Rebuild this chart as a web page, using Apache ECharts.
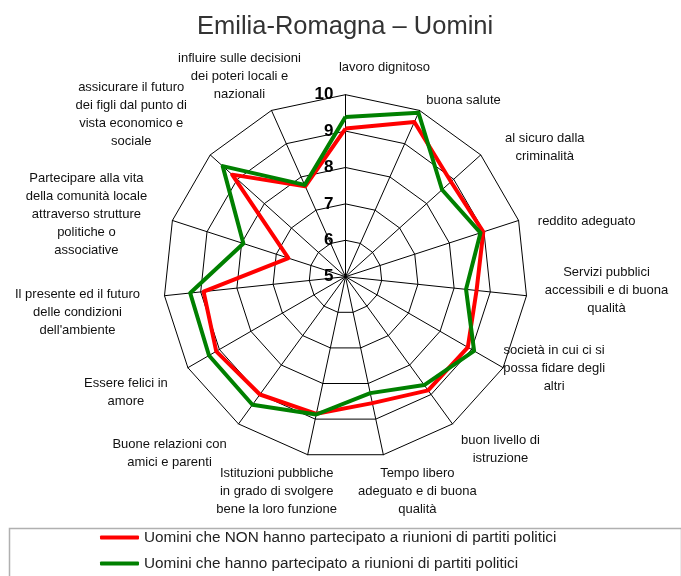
<!DOCTYPE html>
<html>
<head>
<meta charset="utf-8">
<script src="https://cdn.jsdelivr.net/npm/echarts@6/dist/echarts.min.js"></script>
<style>
  html, body { margin: 0; padding: 0; background: #fff; }
  #radar { width: 681px; height: 576px; }
</style>
</head>
<body>
<div id="radar"></div>
<script>
// categories, clockwise from the top
var categories = [
    'lavoro dignitoso',
    'buona salute',
    'al sicuro dalla\ncriminalità',
    'reddito adeguato',
    'Servizi pubblici\naccessibili e di buona\nqualità',
    'società in cui ci si\npossa fidare degli\naltri',
    'buon livello di\nistruzione',
    'Tempo libero\nadeguato e di buona\nqualità',
    'Istituzioni pubbliche\nin grado di svolgere\nbene la loro funzione',
    'Buone relazioni con\namici e parenti',
    'Essere felici in\namore',
    'Il presente ed il futuro\ndelle condizioni\ndell\'ambiente',
    'Partecipare alla vita\ndella comunità locale\nattraverso strutture\npolitiche o\nassociative',
    'assicurare il futuro\ndei figli dal punto di\nvista economico e\nsociale',
    'influire sulle decisioni\ndei poteri locali e\nnazionali'
];
var nonPartecipato = [9.07, 9.65, 8.9, 8.98, 8.62, 8.88, 8.86, 8.55, 8.85, 9.0, 9.1, 8.92, 6.65, 9.19, 7.72];
var partecipato    = [9.39, 9.93, 8.57, 8.9, 8.33, 9.08, 8.68, 8.27, 8.87, 9.35, 9.33, 9.29, 7.95, 9.54, 7.76];
var seriesNames = [
    'Uomini che NON hanno partecipato a riunioni di partiti politici',
    'Uomini che hanno partecipato a riunioni di partiti politici'
];
var scaleMin = 5, scaleMax = 10;

// where each category label sits, as [dx, dy] from the end of its axis (same order as categories)
var labelOffsets = [
    [39, -27], [44, -10], [64, -7], [68, 1], [80, -5],
    [51, 1], [48, 25], [34, 37], [-31, 37], [-69, 29],
    [-62, 25], [-87, 17], [-86, -6], [-79, -40], [-32, -34]
];

!function(){
    var myChart = echarts.init(document.getElementById('radar'));

    // echarts lays the indicators out anticlockwise, so keep the first and reverse the rest
    function clockwise(arr) {
        return [arr[0]].concat(arr.slice(1).reverse());
    }

    // centred text box shifted by padding: moves the text by half of each padding side
    function padFor(off) {
        var dx = off[0], dy = off[1];
        return [dy > 0 ? 2 * dy : 0, dx < 0 ? -2 * dx : 0, dy < 0 ? -2 * dy : 0, dx > 0 ? 2 * dx : 0];
    }

    var offsets = clockwise(labelOffsets);
    var indicator = clockwise(categories).map(function (name, i) {
        var ind = {
            name: name,
            min: scaleMin,
            max: scaleMax,
            nameGap: 0,
            nameTextStyle: { align: 'center', verticalAlign: 'middle', padding: padFor(offsets[i]) }
        };
        if (i === 0) ind.axisLabel = { show: true };
        return ind;
    });

    var option = {
        animation: false,
        backgroundColor: '#ffffff',
        textStyle: { fontFamily: 'Liberation Sans, Arial, sans-serif' },
        title: {
            text: 'Emilia-Romagna – Uomini',
            left: 192,
            top: 9,
            textStyle: { fontSize: 25.5, fontWeight: 'normal', color: '#333' }
        },
        legend: {
            orient: 'vertical',
            left: 100,
            top: 530,
            padding: 0,
            itemWidth: 39,
            itemHeight: 4,
            itemGap: 11,
            icon: 'roundRect',
            textStyle: { fontSize: 15.3, color: '#222' },
            data: seriesNames
        },
        graphic: [{
            type: 'rect',
            left: 7,
            top: 526,
            shape: { width: 672, height: 60 },
            style: { fill: 'none', stroke: '#b0b0b0', lineWidth: 1.5 },
            silent: true
        }],
        radar: {
            shape: 'polygon',
            center: [345.5, 276.7],
            radius: 182,
            splitNumber: 5,
            axisName: {
                color: '#111',
                fontSize: 13,
                formatter: function (name) {
                    return name.split('\n').map(function (l) { return '{c|' + l + '}'; }).join('\n');
                },
                rich: { c: { align: 'center', fontSize: 13, color: '#111', lineHeight: 18 } }
            },
            axisLine: { lineStyle: { color: '#000', width: 1 } },
            splitLine: { lineStyle: { color: '#000', width: 1 } },
            splitArea: { show: false },
            axisTick: { show: false },
            axisLabel: {
                show: false,
                color: '#000',
                fontSize: 17,
                fontWeight: 'bold',
                margin: 12
            },
            indicator: indicator
        },
        series: [{
            type: 'radar',
            symbol: 'none',
            data: [
                {
                    name: seriesNames[0],
                    value: clockwise(nonPartecipato),
                    lineStyle: { color: '#ff0000', width: 4 },
                    itemStyle: { color: '#ff0000' }
                },
                {
                    name: seriesNames[1],
                    value: clockwise(partecipato),
                    lineStyle: { color: '#008000', width: 4 },
                    itemStyle: { color: '#008000' }
                }
            ]
        }]
    };
    myChart.setOption(option);
}.call()
</script>
</body>
</html>
